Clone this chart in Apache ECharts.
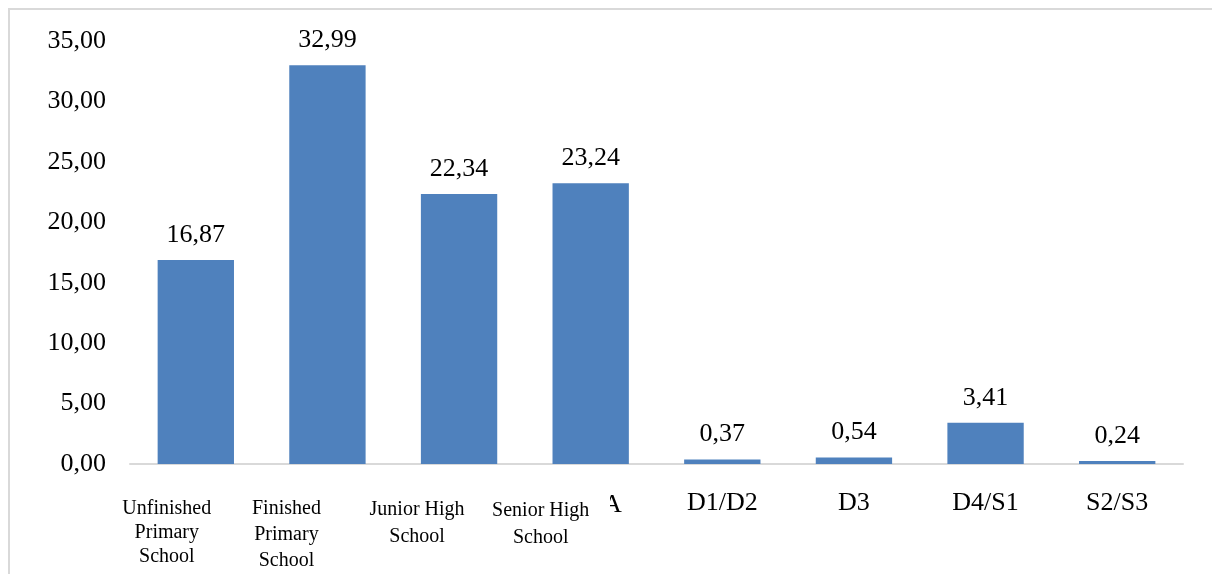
<!DOCTYPE html>
<html><head><meta charset="utf-8">
<script src="https://cdn.jsdelivr.net/npm/echarts@6/dist/echarts.min.js"></script>
<style>html,body{margin:0;padding:0;background:#fff}#c{width:1212px;height:574px}</style>
</head><body><div id="c"></div>
<script>
const categories = ["Unfinished\nPrimary\nSchool", "Finished\nPrimary\nSchool", "Junior High\nSchool", "Senior High\nSchool", "D1/D2", "D3", "D4/S1", "S2/S3"];
const values = [16.87, 32.99, 22.34, 23.24, 0.37, 0.54, 3.41, 0.24];
const smallLabelCount = 4;
const yTicks = { min: 0, max: 35, interval: 5 };

// text-box style for the four overlaid (smaller) labels
const smallShift = [58, 82, 84, 100];
const smallLineH = [24, 26, 27, 27];
const smallTop = [7, 6, 6, 7];

const serif = '"Liberation Serif", "Times New Roman", serif';
const fmt = v => v.toFixed(2).replace('.', ',');
const chart = echarts.init(document.getElementById('c'));
chart.setOption({
  animation: false,
  grid: { left: 130, right: 29, top: 41, bottom: 109 },
  graphic: [
    { type: 'rect', z: -5, shape: { x: 9, y: 9, width: 1400, height: 800 }, style: { fill: 'none', stroke: '#d9d9d9', lineWidth: 2 } },
    { type: 'text', z: 10, left: 603, top: 492, style: { text: 'A', font: '26px ' + serif, fill: '#000' } },
    { type: 'rect', z: 11, left: 594, top: 486, shape: { width: 16, height: 36 }, style: { fill: '#ffffff' } }
  ],
  xAxis: {
    type: 'category',
    data: categories.map((c, i) => i < smallLabelCount
      ? { value: c, textStyle: { fontSize: 20, lineHeight: smallLineH[i], padding: [smallTop[i], smallShift[i], 0, 0] } }
      : { value: c, textStyle: { fontSize: 26 } }),
    axisLine: { lineStyle: { color: '#d9d9d9', width: 2 } },
    axisTick: { show: false },
    axisLabel: { interval: 0, margin: 26, color: '#000', fontFamily: serif, fontSize: 26 }
  },
  yAxis: {
    type: 'value', min: yTicks.min, max: yTicks.max, interval: yTicks.interval,
    axisLine: { show: false }, axisTick: { show: false }, splitLine: { show: false },
    axisLabel: { margin: 24, color: '#000', fontFamily: serif, fontSize: 26, formatter: v => fmt(v) }
  },
  series: [{
    type: 'bar', data: values, barCategoryGap: '42%',
    itemStyle: { color: '#4f81bd' },
    label: { show: true, position: 'top', distance: 12, color: '#000', fontFamily: serif, fontSize: 26, formatter: p => fmt(p.value) }
  }]
});
</script></body></html>
